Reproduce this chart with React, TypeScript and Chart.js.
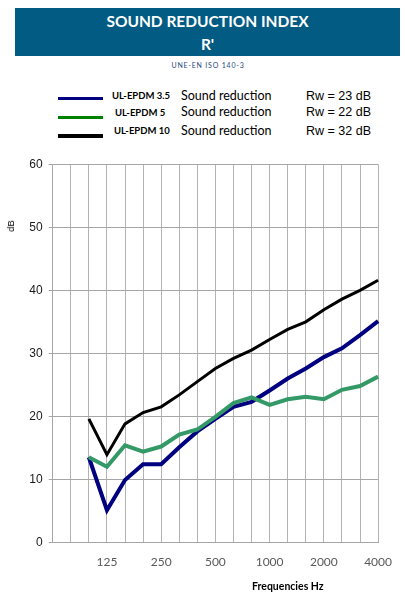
import { useEffect, useRef } from "react"
import { Chart, registerables } from "chart.js"

Chart.register(...registerables)

// 1/3 octave bands (the first two columns are empty in the sheet)
const categories = ["", "", "100", "125", "160", "200", "250", "315", "400", "500", "630", "800", "1000", "1250", "1600", "2000", "2500", "3150", "4000"]
const tickLabels = ["125", "250", "500", "1000", "2000", "4000"]
const yTicks = [0, 10, 20, 30, 40, 50, 60]

// Sound reduction R' in dB
const epdm35 = [null, null, 13.5, 5.1, 9.9, 12.4, 12.4, 15.1, 17.6, 19.6, 21.5, 22.3, 24.1, 26.0, 27.6, 29.4, 30.8, 32.9, 35.1]
const epdm5 = [null, null, 13.5, 12.0, 15.4, 14.4, 15.2, 17.1, 17.9, 19.9, 22.1, 23.0, 21.8, 22.7, 23.1, 22.7, 24.2, 24.8, 26.3]
const epdm10 = [null, null, 19.6, 13.9, 18.8, 20.6, 21.5, 23.4, 25.5, 27.6, 29.2, 30.5, 32.2, 33.8, 35.0, 36.9, 38.6, 40.0, 41.6]

const seriesNames = ["UL-EPDM 3.5", "UL-EPDM 5", "UL-EPDM 10"]
const rwValues = ["Rw = 23 dB", "Rw = 22 dB", "Rw = 32 dB"]

const lato = "Lato, 'Open Sans', sans-serif"
const arial = "'Liberation Sans', Arial, sans-serif"

function SoundChart() {
  const chartRef = useRef<HTMLCanvasElement>(null)
  const chartInstance = useRef<Chart | null>(null)

  useEffect(() => {
    if (!chartRef.current) return
    if (chartInstance.current) {
      chartInstance.current.destroy()
    }
    const ctx = chartRef.current.getContext("2d")
    if (!ctx) return

    chartInstance.current = new Chart(ctx, {
      type: "line",
      data: {
        labels: categories,
        datasets: [
          {
            label: seriesNames[0],
            data: epdm35,
            borderColor: "#000080",
            borderWidth: 4,
            pointRadius: 0,
            tension: 0,
            order: 1,
          },
          {
            label: seriesNames[1],
            data: epdm5,
            borderColor: "#339966",
            borderWidth: 4,
            pointRadius: 0,
            tension: 0,
            order: 0,
          },
          {
            label: seriesNames[2],
            data: epdm10,
            borderColor: "#000000",
            borderWidth: 3,
            pointRadius: 0,
            tension: 0,
            order: 2,
          },
        ],
      },
      options: {
        responsive: false,
        animation: false,
        layout: { padding: { left: 0, right: 23.5, top: 14.3, bottom: 0 } },
        plugins: {
          legend: { display: false },
          tooltip: { enabled: false },
        },
        scales: {
          x: {
            type: "category",
            offset: false,
            grid: { color: "#b3b3b3", drawTicks: false },
            border: { color: "#a6a6a6" },
            ticks: {
              autoSkip: false,
              maxRotation: 0,
              padding: 13,
              color: "#595959",
              font: { family: lato, size: 12 },
              callback: (_v, i) => (tickLabels.includes(categories[i]) ? categories[i] : ""),
            },
            afterFit: (s) => {
              s.height = 54.7
            },
          },
          y: {
            min: yTicks[0],
            max: yTicks[yTicks.length - 1],
            ticks: {
              stepSize: 10,
              padding: 6,
              color: "#1a1a1a",
              font: { family: arial, size: 12 },
            },
            grid: { color: "#a6a6a6", tickLength: 4 },
            border: { color: "#a6a6a6" },
            afterFit: (s) => {
              s.width = 52.7
            },
          },
        },
      },
    })

    return () => {
      if (chartInstance.current) {
        chartInstance.current.destroy()
        chartInstance.current = null
      }
    }
  }, [])

  return <canvas ref={chartRef} width={405} height={447} style={{ position: "absolute", left: 0, top: 150, width: 405, height: 447 }} />
}

export default function App() {
  const legendColors = ["#000080", "#008000", "#000000"]
  const lineTops = [97, 116, 134]
  const lineHeights = [3, 3, 4]
  const rowCenters = [96, 113, 131]
  const nameLefts = [112, 115, 114]

  return (
    <div style={{ position: "fixed", left: 0, top: 0, width: 405, height: 597, background: "#fff", overflow: "hidden" }}>
      <div
        style={{
          position: "absolute",
          left: 15,
          top: 8,
          width: 385,
          height: 48,
          background: "#015b83",
          color: "#fff",
          fontFamily: lato,
          fontWeight: 700,
          fontSize: 15.5,
          textAlign: "center",
        }}
      >
        <div style={{ position: "absolute", left: 0, right: 0, top: 4, lineHeight: "19px" }}>SOUND REDUCTION INDEX</div>
        <div style={{ position: "absolute", left: 0, right: 0, top: 27, lineHeight: "19px" }}>R'</div>
      </div>
      <div
        style={{
          position: "absolute",
          left: 0,
          width: 416,
          top: 60,
          lineHeight: "11px",
          textAlign: "center",
          fontFamily: lato,
          fontSize: 7,
          letterSpacing: 0.8,
          color: "#1f497d",
        }}
      >
        UNE-EN ISO 140-3
      </div>

      {seriesNames.map((name, i) => (
        <div key={name}>
          <div style={{ position: "absolute", left: 58, top: lineTops[i], width: 45, height: lineHeights[i], background: legendColors[i] }} />
          <div
            style={{
              position: "absolute",
              left: nameLefts[i],
              top: rowCenters[i] - 7,
              lineHeight: "14px",
              fontFamily: lato,
              fontWeight: 700,
              fontSize: 9.5,
              color: "#000",
              whiteSpace: "nowrap",
            }}
          >
            {name}
          </div>
          <div
            style={{
              position: "absolute",
              left: 181,
              top: (i === 1 ? rowCenters[i] - 1 : rowCenters[i]) - 8,
              lineHeight: "16px",
              fontFamily: lato,
              fontSize: 12.5,
              color: "#000",
              whiteSpace: "nowrap",
            }}
          >
            Sound reduction
          </div>
          <div
            style={{
              position: "absolute",
              left: 306,
              top: (i === 1 ? rowCenters[i] - 1 : rowCenters[i]) - 8,
              lineHeight: "16px",
              fontFamily: arial,
              fontSize: 12.5,
              color: "#000",
              whiteSpace: "nowrap",
            }}
          >
            {rwValues[i]}
          </div>
        </div>
      ))}

      <SoundChart />

      <div
        style={{
          position: "absolute",
          left: 11,
          top: 226,
          transform: "translate(-50%, -50%) rotate(-90deg)",
          fontFamily: arial,
          fontSize: 9.5,
          lineHeight: "12px",
          color: "#000",
          whiteSpace: "nowrap",
        }}
      >
        dB
      </div>
      <div
        style={{
          position: "absolute",
          left: 252,
          top: 579,
          lineHeight: "14px",
          fontFamily: lato,
          fontWeight: 700,
          fontSize: 10.5,
          color: "#000",
          whiteSpace: "nowrap",
        }}
      >
        Frequencies Hz
      </div>
    </div>
  )
}
